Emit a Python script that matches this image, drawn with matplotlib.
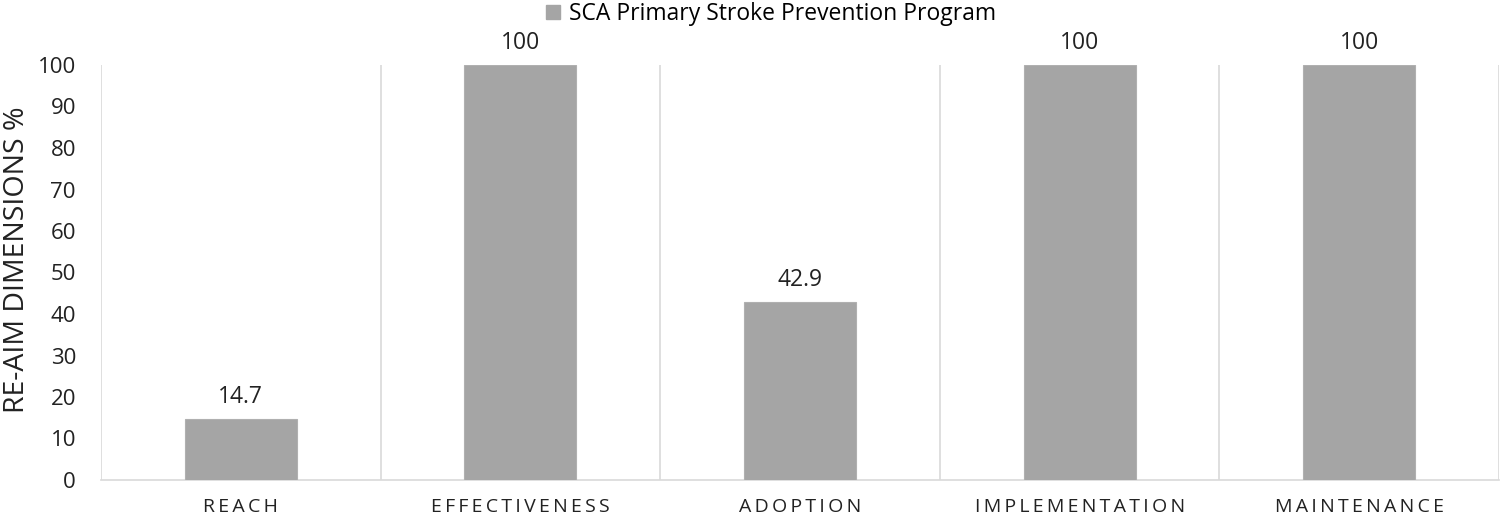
import matplotlib.pyplot as plt
from matplotlib.patches import Patch

categories = ["REACH", "EFFECTIVENESS", "ADOPTION", "IMPLEMENTATION", "MAINTENANCE"]
values = [14.7, 100, 42.9, 100, 100]
value_labels = ["14.7", "100", "42.9", "100", "100"]
series_name = "SCA Primary Stroke Prevention Program"
yticks = list(range(0, 101, 10))

plt.rcParams['font.family'] = ['Open Sans', 'DejaVu Sans']

fig = plt.figure(figsize=(15, 5.19), dpi=100)
ax = fig.add_axes([101 / 1500, 1 - 480 / 519, 1398 / 1500, 415 / 519])

bar_color = "#a5a5a5"
x = list(range(len(categories)))
ax.bar(x, values, width=0.4, color=bar_color, edgecolor="#b0b0b0", linewidth=0.8, zorder=3)

for xi, v, lab in zip(x, values, value_labels):
    ax.annotate(lab, (xi, v), xytext=(0, 7), textcoords="offset points",
                ha="center", va="bottom", fontsize=16.5, color="#222222")

ax.set_xlim(-0.5, len(categories) - 0.5)
ax.set_ylim(0, 100)
ax.set_yticks(yticks)
ax.tick_params(axis="y", length=0, pad=18, labelsize=16, labelcolor="#222222")

# category separators
for b in [i - 0.5 for i in range(len(categories) + 1)]:
    ax.axvline(b, color="#d9d9d9", linewidth=1.2, zorder=1)

ax.set_xticks(x)
spaced = ["\u2009".join(c) for c in categories]
ax.set_xticklabels(spaced, fontsize=14, color="#222222")
ax.tick_params(axis="x", length=0, pad=13)

for s in ["top", "left", "right"]:
    ax.spines[s].set_visible(False)
ax.spines["bottom"].set_color("#d9d9d9")
ax.spines["bottom"].set_linewidth(1.2)

fig.text(17 / 1500, 1 - 260 / 519, "RE-AIM DIMENSIONS %", rotation=90,
         ha="center", va="center", fontsize=20.5, color="#222222")

fig.legend(handles=[Patch(color=bar_color, label=series_name)], loc="center",
           bbox_to_anchor=(771 / 1500, 1 - 14 / 519), frameon=False, fontsize=16.5,
           handlelength=0.6, handleheight=0.6, handletextpad=0.4,
           borderpad=0, borderaxespad=0)

fig.savefig("out.png", dpi=100)
